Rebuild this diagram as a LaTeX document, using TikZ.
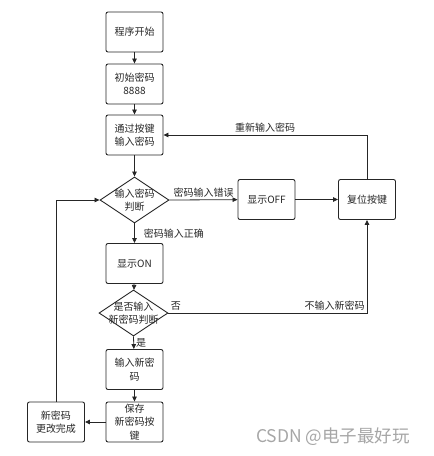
\documentclass[tikz,border=0pt]{standalone}
\usepackage{fontspec}
\newfontfamily\cjk{Noto Sans CJK SC}
\usetikzlibrary{shapes.geometric, arrows.meta}

\begin{document}
\begin{tikzpicture}[x=1pt, y=-1pt,
    proc/.style={draw=black!85, line width=0.9pt, rounded corners=2pt,
        minimum width=57pt, minimum height=40pt, inner sep=0pt, align=center,
        text=black!85, font=\cjk\fontsize{10}{13.5}\selectfont},
    decide/.style={draw=black!85, diamond, line width=0.9pt,
        minimum width=69pt, minimum height=46pt, inner sep=0pt},
    txt/.style={align=center, text=black!85, font=\cjk\fontsize{10}{13.5}\selectfont},
    lbl/.style={text=black!85, inner sep=2pt, font=\cjk\fontsize{10}{12}\selectfont},
    flow/.style={draw=black!85, line width=0.8pt, -{Triangle[length=5pt, width=4.5pt]}}]
    \useasboundingbox (0, 0) rectangle (434, 456);

    % Main column
    \node[proc] (start) at (134.5, 32) {程序开始};
    \node[proc] (init) at (134.5, 84) {初始密码\\8888};
    \node[proc] (entry) at (134.5, 135) {通过按键\\输入密码};
    \node[decide] (check) at (134.5, 200) {};
    \node[txt] (checktxt) at (check) {输入密码\\判断};
    \node[proc] (on) at (134.5, 263.5) {显示ON};
    \node[decide] (ask) at (133.5, 313) {};
    \node[txt] (asktxt) at (ask) {是否输入\\新密码判断};
    \node[proc] (newpw) at (134.5, 369.5) {输入新密\\码};
    \node[proc] (save) at (134.5, 422) {保存\\新密码按\\键};

    % Side boxes
    \node[proc] (off) at (266.5, 199.5) {显示OFF};
    \node[proc] (reset) at (367, 199.5) {复位按键};
    \node[proc] (done) at (56, 422) {新密码\\更改完成};

    % Connectors
    \draw[flow] (start) -- (init);
    \draw[flow] (init) -- (entry);
    \draw[flow] (entry) -- (check);
    \draw[flow] (check.east) -- node[lbl, above] {密码输入错误} (off);
    \draw[flow] (off) -- (reset);
    \draw[flow] (reset.north) |- node[lbl, pos=0.75, above] {重新输入密码} (entry.east);
    \draw[flow] (check.south) -- node[lbl, right, xshift=7pt] {密码输入正确} (on);
    \draw[flow] (on) -- (ask);
    \draw[flow] (ask.south) -- node[lbl, right] {是} (newpw);
    \draw[flow] (ask.east) -| node[lbl, pos=0, above right] {否}
        node[lbl, pos=0.5, above left] {不输入新密码} (reset.south);
    \draw[flow] (newpw) -- (save);
    \draw[flow] (save) -- (done);
    \draw[flow] (done.north) |- (check.west);

    % Watermark
    \node[text=black!35, font=\cjk\fontsize{17.5}{17.5}\selectfont] (mark) at (333, 437) {CSDN @电子最好玩};
\end{tikzpicture}
\end{document}
